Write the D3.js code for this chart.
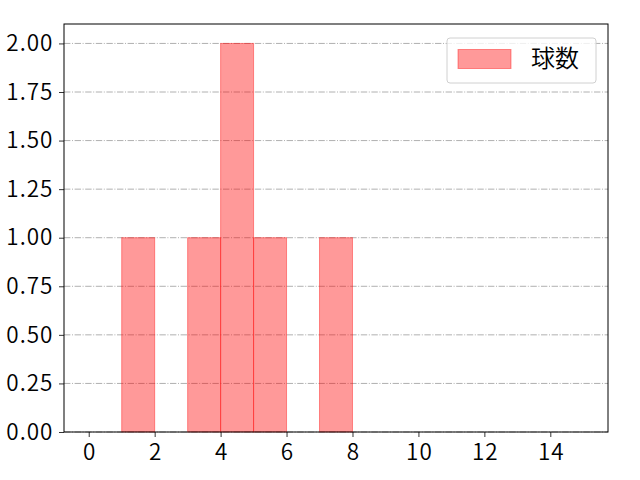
<!doctype html>
<html lang="ja">
<head>
<meta charset="utf-8">
<script src="https://cdn.jsdelivr.net/npm/d3@7/dist/d3.min.js"></script>
<style>
    body { margin: 0; background: #fff; }
    svg text { font-family: "Noto Sans CJK JP", "Noto Sans", sans-serif; }
</style>
</head>
<body>
<script>
    // histogram data: bin edges and counts per bin
    var binEdges = [0, 1, 2, 3, 4, 5, 6, 7, 8, 9, 10, 11, 12, 13, 14, 15];
    var counts = [0, 1, 0, 1, 2, 1, 0, 1, 0, 0, 0, 0, 0, 0, 0];
    var xTicks = [0, 2, 4, 6, 8, 10, 12, 14];
    var yTicks = [0, 0.25, 0.5, 0.75, 1.0, 1.25, 1.5, 1.75, 2.0];
    var seriesName = "球数";

    var width = 640, height = 480;
    var margin = {top: 24, right: 32, bottom: 48, left: 64};

    var svg = d3.select("body").append("svg")
        .attr("width", width)
        .attr("height", height);

    // x from -0.75 to 15.75, y from 0 to 2.1 (matplotlib-style margins)
    var x = d3.scaleLinear().domain([-0.75, 15.75]).range([margin.left, width - margin.right]);
    var y = d3.scaleLinear().domain([0, 2.1]).range([height - margin.bottom, margin.top]);

    // Grid lines
    svg.append("g").selectAll("line")
        .data(yTicks)
        .enter().append("line")
        .attr("x1", margin.left)
        .attr("x2", width - margin.right)
        .attr("y1", function(d) { return y(d); })
        .attr("y2", function(d) { return y(d); })
        .attr("stroke", "#b0b0b0")
        .attr("stroke-width", 1)
        .attr("stroke-dasharray", "6.4,1.6,1,1.6");

    // Bars
    var bins = counts.map(function(c, i) { return {x0: binEdges[i], x1: binEdges[i + 1], n: c}; })
        .filter(function(d) { return d.n > 0; });

    svg.append("g").selectAll("rect")
        .data(bins)
        .enter().append("rect")
        .attr("x", function(d) { return x(d.x0); })
        .attr("width", function(d) { return x(d.x1) - x(d.x0); })
        .attr("y", function(d) { return y(d.n); })
        .attr("height", function(d) { return y(0) - y(d.n); })
        .attr("fill", "red")
        .attr("fill-opacity", 0.4)
        .attr("stroke", "red")
        .attr("stroke-opacity", 0.4)
        .attr("stroke-width", 1);

    // Axes
    var ls = 1;
    var xAxis = d3.axisBottom(x).tickValues(xTicks).tickSize(5).tickPadding(7.5)
        .tickFormat(d3.format("d"));
    var yAxis = d3.axisLeft(y).tickValues(yTicks).tickSize(5).tickPadding(6.6 - ls)
        .tickFormat(d3.format(".2f"));

    var gx = svg.append("g")
        .attr("transform", "translate(0," + (height - margin.bottom) + ")")
        .call(xAxis);
    var gy = svg.append("g")
        .attr("transform", "translate(" + margin.left + ",0)")
        .call(yAxis);

    [gx, gy].forEach(function(g) {
        g.select(".domain").remove();
        g.selectAll("line").attr("stroke", "#000").attr("stroke-width", 0.8);
        g.selectAll("text").attr("fill", "#000")
            .style("font-size", "22.5px")
            .style("font-weight", 350)
            .style("letter-spacing", ls + "px");
    });
    gx.selectAll("text").attr("dx", (ls / 2) + "px");

    // Frame
    svg.append("rect")
        .attr("x", margin.left)
        .attr("y", margin.top)
        .attr("width", width - margin.left - margin.right)
        .attr("height", height - margin.top - margin.bottom)
        .attr("fill", "none")
        .attr("stroke", "#000")
        .attr("stroke-width", 1);

    // Legend
    var legend = svg.append("g").attr("transform", "translate(447,38)");
    legend.append("rect")
        .attr("width", 149)
        .attr("height", 45)
        .attr("rx", 3)
        .attr("fill", "#fff")
        .attr("fill-opacity", 0.8)
        .attr("stroke", "#d0d0d0")
        .attr("stroke-width", 1);
    legend.append("rect")
        .attr("x", 11)
        .attr("y", 11.5)
        .attr("width", 53)
        .attr("height", 19)
        .attr("fill", "red")
        .attr("fill-opacity", 0.4)
        .attr("stroke", "red")
        .attr("stroke-opacity", 0.4);
    legend.append("text")
        .attr("x", 84)
        .attr("y", 21)
        .attr("dy", "0.35em")
        .style("font-size", "24px")
        .style("font-weight", 350)
        .attr("fill", "#000")
        .text(seriesName);
</script>
</body>
</html>
